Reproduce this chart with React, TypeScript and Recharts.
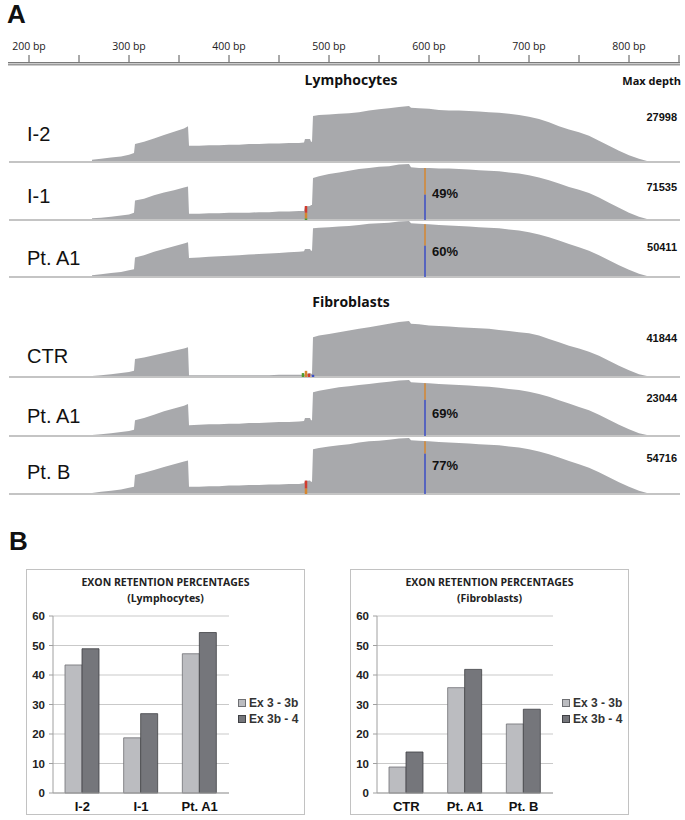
import { AreaChart, Area, LineChart, Line, BarChart, Bar, XAxis, YAxis, CartesianGrid, ReferenceLine, Legend } from 'recharts';

const SANS = '"Liberation Sans", Arial, sans-serif';
const OPEN = '"Open Sans", "Noto Sans", sans-serif';

// ---- panel A: coverage tracks ----
const RULER_TICKS = [200, 250, 300, 350, 400, 450, 500, 550, 600, 650, 700, 750, 800, 850];

// bp positions of the coverage profile (repeated values give the vertical edges)
const POSITIONS = [
  263, 272, 282, 292, 300, 305,
  306, 315, 325, 335, 345, 355, 359,
  360, 370, 380, 390, 400, 410, 420, 430, 440, 450, 460, 470, 475,
  476, 481, 482, 483,
  484, 490, 500, 510, 520, 530, 540, 550, 560, 570, 580,
  582, 590, 600, 610, 620, 630, 640, 650, 660, 670, 680, 690, 700, 710, 720, 730, 740, 750, 760, 770, 780, 790, 800, 810, 818, 824,
];

// coverage, % of the track's max depth
const COV_I2 = [
  4, 6, 8, 10, 13, 16,
  32, 36, 42, 48, 54, 60, 64,
  29, 29, 30, 30, 31, 31, 32, 32, 33, 33, 34, 34, 35,
  41, 41, 36, 36,
  82, 84, 85, 86, 87, 89, 92, 94, 96, 98, 100,
  97, 96, 95, 93, 92, 92, 91, 90, 89, 88, 86, 84, 81, 77, 71, 64, 58, 53, 47, 38, 29, 20, 12, 6, 2, 0,
];
const COV_I1 = [
  3, 4, 6, 8, 10, 13,
  35, 38, 44, 49, 53, 58, 60,
  11, 11, 12, 12, 13, 13, 13, 14, 14, 15, 15, 16, 16,
  24, 25, 27, 27,
  75, 78, 82, 85, 88, 91, 93, 95, 96, 99, 100,
  94, 93, 93, 92, 92, 91, 90, 89, 88, 87, 85, 83, 80, 76, 71, 65, 59, 54, 48, 40, 31, 22, 13, 6, 2, 0,
];
const COV_A1_LYMPH = [
  3, 5, 7, 9, 12, 14,
  35, 39, 45, 50, 55, 60, 62,
  34, 35, 36, 37, 38, 39, 40, 41, 42, 43, 44, 45, 46,
  50, 50, 47, 47,
  87, 88, 89, 90, 91, 93, 95, 96, 97, 99, 100,
  96, 95, 94, 93, 92, 91, 90, 89, 88, 87, 85, 83, 80, 76, 71, 65, 59, 53, 47, 39, 30, 21, 13, 6, 2, 0,
];
const COV_CTR = [
  2, 3, 5, 7, 9, 11,
  32, 35, 39, 43, 47, 51, 53,
  3, 3, 3, 3, 3, 3, 3, 3, 3, 4, 4, 4, 4,
  5, 7, 6, 6,
  71, 74, 77, 80, 83, 86, 89, 92, 95, 98, 100,
  95, 94, 92, 91, 90, 89, 88, 87, 86, 84, 82, 80, 78, 74, 68, 62, 56, 51, 45, 38, 29, 20, 12, 5, 2, 0,
];
const COV_A1_FIB = [
  2, 3, 5, 7, 9, 11,
  28, 32, 38, 44, 49, 54, 57,
  19, 20, 21, 21, 22, 22, 23, 23, 24, 25, 25, 26, 27,
  32, 32, 28, 28,
  78, 81, 84, 87, 89, 91, 93, 95, 97, 99, 100,
  96, 95, 94, 93, 92, 91, 90, 89, 88, 86, 84, 82, 79, 75, 70, 64, 58, 52, 46, 38, 29, 20, 12, 5, 2, 0,
];
const COV_B = [
  2, 4, 6, 8, 11, 13,
  34, 38, 43, 48, 53, 58, 60,
  13, 13, 14, 14, 15, 15, 16, 16, 17, 17, 18, 18, 19,
  23, 24, 22, 22,
  80, 82, 85, 87, 89, 92, 94, 95, 97, 99, 100,
  96, 95, 94, 93, 92, 91, 90, 89, 88, 87, 85, 83, 80, 76, 71, 65, 59, 53, 47, 39, 30, 21, 13, 6, 2, 0,
];

const TRACK_NAMES = ['I-2', 'I-1', 'Pt. A1', 'CTR', 'Pt. A1', 'Pt. B'];
const MAX_DEPTH = [27998, 71535, 50411, 41844, 23044, 54716];
const RETENTION = [null, 49, 60, null, 69, 77];
const SNP_BP = 596;

// mismatch bases shown at the end of the intron
const ALLELES_I1 = [
  { bp: 477, base: 'A', from: 0, to: 3 },
  { bp: 477, base: 'G', from: 3, to: 13 },
  { bp: 477, base: 'T', from: 13, to: 25 },
];
const ALLELES_CTR = [
  { bp: 474, base: 'A', from: 0, to: 7 },
  { bp: 477, base: 'G', from: 0, to: 11 },
  { bp: 480, base: 'T', from: 0, to: 6 },
  { bp: 484, base: 'C', from: 0, to: 4 },
];
const ALLELES_B = [
  { bp: 477, base: 'G', from: 0, to: 10 },
  { bp: 477, base: 'T', from: 10, to: 24 },
];

const COVERAGE = [COV_I2, COV_I1, COV_A1_LYMPH, COV_CTR, COV_A1_FIB, COV_B];
const ALLELES = [[], ALLELES_I1, [], ALLELES_CTR, [], ALLELES_B];

// ---- panel B: exon retention ----
const SERIES = ['Ex 3 - 3b', 'Ex 3b - 4'];
const LYMPH_CATS = ['I-2', 'I-1', 'Pt. A1'];
const LYMPH_EX3_3B = [43.4, 18.7, 47.2];
const LYMPH_EX3B_4 = [48.9, 26.9, 54.4];
const FIB_CATS = ['CTR', 'Pt. A1', 'Pt. B'];
const FIB_EX3_3B = [8.8, 35.7, 23.4];
const FIB_EX3B_4 = [13.9, 41.9, 28.4];
const PCT_TICKS = [0, 10, 20, 30, 40, 50, 60];

// layout
const TRACK_BASE = [162, 220, 277, 377, 436, 494];
const LABEL_Y = [134, 196, 258, 356, 416, 472];
const DEPTH_Y = [117, 187, 247, 338, 398, 458];
const PCT_Y = [0, 193, 251, 0, 413, 465];
const BASE_COLOR: Record<string, string> = { A: '#4f9a2c', C: '#3b4ec6', G: '#d6872f', T: '#d23b2e' };
const BAR_FILL = ['#bbbcc0', '#75767b'];
const BAR_STROKE = ['#6e6f73', '#3f4044'];

function Txt({ x, y, anchor = 'start', size, weight = 400, family = SANS, color = '#111', children }: any) {
  const tx = anchor === 'middle' ? '-50%' : anchor === 'end' ? '-100%' : '0';
  return (
    <div style={{ position: 'absolute', left: x, top: y - size / 2, transform: `translateX(${tx})`, fontSize: size, fontWeight: weight, fontFamily: family, color, lineHeight: 1, whiteSpace: 'nowrap' }}>
      {children}
    </div>
  );
}

function RulerTick({ x, y, payload }: any) {
  if (payload.value % 100 !== 0) return <g />;
  return (
    <text x={x} y={y - 3} textAnchor="middle" style={{ fontSize: 10.5, fontFamily: OPEN, fill: '#222' }}>
      {payload.value} bp
    </text>
  );
}

function Ruler() {
  return (
    <div style={{ position: 'absolute', left: 0, top: 30 }}>
      <LineChart width={685} height={40} data={[{ bp: 171, v: 0 }, { bp: 856, v: 0 }]} margin={{ top: 0, right: 0, bottom: 0, left: 0 }}>
        <XAxis dataKey="bp" type="number" orientation="top" domain={[171, 856]} ticks={RULER_TICKS} interval={0}
          height={32} axisLine={false} tickLine={{ stroke: '#555' }} tickSize={7} tick={<RulerTick />} />
        <YAxis hide domain={[0, 8]} />
        <ReferenceLine segment={[{ x: 179, y: 7.5 }, { x: 851, y: 7.5 }]} stroke="#7a7a7a" strokeWidth={1} />
        <ReferenceLine segment={[{ x: 179, y: 5.5 }, { x: 851, y: 5.5 }]} stroke="#9a9a9a" strokeWidth={2} />
        <Line dataKey="v" stroke="none" dot={false} activeDot={false} isAnimationActive={false} />
      </LineChart>
    </div>
  );
}

function Track({ i }: { i: number }) {
  const vals = COVERAGE[i];
  const data = POSITIONS.map((bp, k) => ({ bp, cov: vals[k] }));
  const pct = RETENTION[i];
  const covSnp = vals[POSITIONS.indexOf(600)];
  const blueTop = pct == null ? 0 : (covSnp * pct) / 100;
  return (
    <div style={{ position: 'absolute', left: 0, top: TRACK_BASE[i] - 56 }}>
      <AreaChart width={685} height={59} data={data} margin={{ top: 0, right: 0, bottom: 3, left: 0 }}>
        <XAxis dataKey="bp" type="number" domain={[171, 856]} hide />
        <YAxis domain={[0, 100]} hide />
        <ReferenceLine segment={[{ x: 180, y: 0 }, { x: 851, y: 0 }]} stroke="#c4c4c4" strokeWidth={2} />
        <Area type="linear" dataKey="cov" stroke="none" fill="#a8a9ac" fillOpacity={1} dot={false} activeDot={false} isAnimationActive={false} />
        {ALLELES[i].map((a, k) => (
          <ReferenceLine key={k} segment={[{ x: a.bp, y: a.from }, { x: a.bp, y: a.to }]} stroke={BASE_COLOR[a.base]} strokeWidth={2.5} />
        ))}
        {pct != null && (
          <ReferenceLine segment={[{ x: SNP_BP, y: 0 }, { x: SNP_BP, y: blueTop }]} stroke={BASE_COLOR.C} strokeWidth={1.5} />
        )}
        {pct != null && (
          <ReferenceLine segment={[{ x: SNP_BP, y: blueTop }, { x: SNP_BP, y: covSnp }]} stroke={BASE_COLOR.G} strokeWidth={1.5} />
        )}
      </AreaChart>
    </div>
  );
}

function LegendBox() {
  return (
    <div style={{ fontFamily: SANS, fontSize: 12, fontWeight: 700, color: '#333', lineHeight: '16px' }}>
      {SERIES.map((s, k) => (
        <div key={s} style={{ display: 'flex', alignItems: 'center' }}>
          <span style={{ display: 'inline-block', width: 6, height: 6, background: BAR_FILL[k], border: `1px solid ${BAR_STROKE[k]}`, marginRight: 3 }} />
          {s}
        </div>
      ))}
    </div>
  );
}

function ExonChart({ left, subtitle, cats, a, b }: any) {
  const data = cats.map((c: string, k: number) => ({ cat: c, a: a[k], b: b[k] }));
  return (
    <div style={{ position: 'absolute', left, top: 569, width: 279, height: 246, border: '1px solid #c2c2c2', boxSizing: 'border-box', background: '#fff' }}>
      <div style={{ position: 'absolute', left: 0, right: 0, top: 4, textAlign: 'center', fontFamily: OPEN, fontWeight: 700, fontSize: 10.5, lineHeight: '16px', color: '#222' }}>
        EXON RETENTION PERCENTAGES<br />({subtitle})
      </div>
      <BarChart width={277} height={244} data={data} margin={{ top: 46, right: 75, bottom: 2, left: 4 }} barGap={0} barSize={17}>
        <CartesianGrid vertical={false} stroke="#c9c9c9" />
        <XAxis dataKey="cat" height={19} axisLine={{ stroke: '#a0a0a0' }} tickLine={false} tickMargin={3}
          tick={{ fontSize: 13, fontWeight: 700, fill: '#111', fontFamily: SANS }} />
        <YAxis domain={[0, 60]} ticks={PCT_TICKS} width={22} axisLine={{ stroke: '#a0a0a0' }} tickLine={{ stroke: '#a0a0a0' }}
          tickSize={4} tickMargin={4} tick={{ fontSize: 11.5, fontWeight: 700, fill: '#222', fontFamily: SANS }} />
        <Legend layout="vertical" align="center" verticalAlign="middle" content={<LegendBox />} wrapperStyle={{ left: 211, top: 125, width: 'auto' }} />
        <Bar dataKey="a" name={SERIES[0]} fill={BAR_FILL[0]} stroke={BAR_STROKE[0]} strokeWidth={0.8} isAnimationActive={false} />
        <Bar dataKey="b" name={SERIES[1]} fill={BAR_FILL[1]} stroke={BAR_STROKE[1]} strokeWidth={0.8} isAnimationActive={false} />
      </BarChart>
    </div>
  );
}

export default function App() {
  return (
    <div style={{ position: 'absolute', left: 0, top: 0, width: 685, height: 820, background: '#fff', fontFamily: SANS }}>
      <Txt x={7} y={14} size={26} weight={700}>A</Txt>
      <Ruler />
      <Txt x={351} y={80} anchor="middle" size={14} weight={700} family={OPEN}>Lymphocytes</Txt>
      <Txt x={681} y={80} anchor="end" size={11} weight={700} family={OPEN}>Max depth</Txt>
      <Txt x={351} y={302} anchor="middle" size={14} weight={700} family={OPEN}>Fibroblasts</Txt>

      {TRACK_NAMES.map((_, i) => <Track key={i} i={i} />)}
      {TRACK_NAMES.map((n, i) => (
        <Txt key={'n' + i} x={27} y={LABEL_Y[i]} size={20}>{n}</Txt>
      ))}
      {MAX_DEPTH.map((d, i) => (
        <Txt key={'d' + i} x={677} y={DEPTH_Y[i]} anchor="end" size={11} weight={700}>{d}</Txt>
      ))}
      {RETENTION.map((p, i) => p == null ? null : (
        <Txt key={'p' + i} x={432} y={PCT_Y[i]} size={13} weight={700}>{p}%</Txt>
      ))}

      <Txt x={9} y={541} size={26} weight={700}>B</Txt>
      <ExonChart left={26} subtitle="Lymphocytes" cats={LYMPH_CATS} a={LYMPH_EX3_3B} b={LYMPH_EX3B_4} />
      <ExonChart left={350} subtitle="Fibroblasts" cats={FIB_CATS} a={FIB_EX3_3B} b={FIB_EX3B_4} />
    </div>
  );
}
